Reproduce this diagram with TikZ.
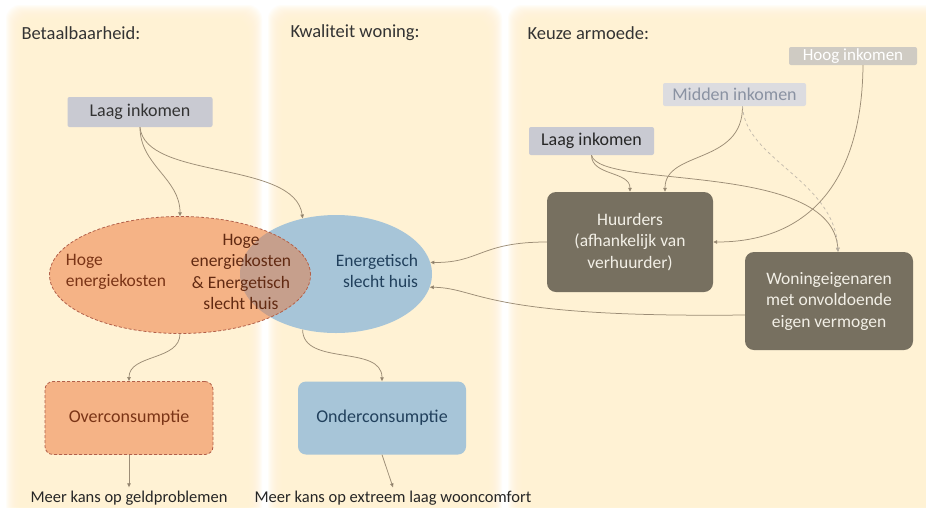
\documentclass[tikz,border=0pt]{standalone}
\usepackage{fontspec}
\setmainfont{Carlito}
\usetikzlibrary{arrows.meta}
\usetikzlibrary{shapes.geometric}
\definecolor{colbg}{HTML}{FFF2D4}
\definecolor{orangefill}{HTML}{F5B386}
\definecolor{orangeline}{HTML}{B2604A}
\definecolor{orangetext}{HTML}{7A3416}
\definecolor{bluefill}{HTML}{A7C5D8}
\definecolor{bluetext}{HTML}{21405C}
\definecolor{overlapfill}{HTML}{C69F8C}
\definecolor{darkfill}{HTML}{777060}
\definecolor{darktext}{HTML}{F2EFE6}
\definecolor{laagfill}{HTML}{C9CAD2}
\definecolor{middenfill}{HTML}{DCDCE0}
\definecolor{middentext}{HTML}{8A92A2}
\definecolor{hoogfill}{HTML}{CFCBC3}
\definecolor{linecol}{HTML}{9C8D76}
\tikzset{link/.style = {draw=linecol, line width=0.75pt, -{Triangle[length=4pt,width=3.5pt,fill=linecol!70!black]}}}
\tikzset{incbox/.style = {fill=#1, rounded corners=2pt, inner sep=0pt, font=\fontsize{18}{21}\selectfont}}
\tikzset{darkbox/.style = {fill=darkfill, text=darktext, rounded corners=9pt, align=center, inner sep=0pt, font=\fontsize{17.5}{21.5}\selectfont}}
\tikzset{outbox/.style = {rounded corners=8pt, inner sep=0pt, minimum width=168pt, minimum height=73pt, font=\fontsize{18}{21}\selectfont}}
\tikzset{venn/.style = {ellipse, inner sep=0pt}}
\tikzset{venntext/.style = {inner sep=0pt, font=\fontsize{17.5}{21.5}\selectfont}}
\tikzset{heading/.style = {anchor=west, text=black!80, font=\fontsize{18.5}{21}\selectfont}}
\tikzset{result/.style = {text=black!85, font=\fontsize{16.5}{19}\selectfont}}

\begin{document}
\begin{tikzpicture}[x=1pt,y=-1pt]
  \useasboundingbox (0,0) rectangle (926,507);
  \fill[white] (0,0) rectangle (926,507);
  % kolommen
  \foreach \xa/\xb in {6/262, 268/502, 508/950} {
    \foreach \i in {0,...,19}
      \fill[colbg, opacity=0.15, rounded corners=14pt] (\xa+\i,5+\i) rectangle (\xb-\i,530);
  }
  \node[heading] (tbet) at (18,33) {Betaalbaarheid:};
  \node[heading] (tkwal) at (287,33) {Kwaliteit woning:};
  \node[heading] (tkeuze) at (524,33) {Keuze armoede:};

  % venn
  \node[venn, fill=bluefill, minimum width=192pt, minimum height=118pt] (slecht) at (336,274) {};
  \node[venn, fill=orangefill, minimum width=261pt, minimum height=117pt] (hoog) at (180,275) {};
  \begin{scope}
    \clip (180,275) ellipse [x radius=130.5pt, y radius=58.5pt];
    \fill[overlapfill] (336,274) ellipse [x radius=96pt, y radius=59pt];
  \end{scope}
  \draw[orangeline, line width=0.8pt, dash pattern=on 3pt off 2pt] (180,275) ellipse [x radius=130.5pt, y radius=58.5pt];
  \node[venntext, text=orangetext, align=left] (hogetxt) at (116,272) {Hoge\\energiekosten};
  \node[venntext, text=orangetext!80!black, align=center] (beide) at (241,272) {Hoge\\energiekosten\\\& Energetisch\\slecht huis};
  \node[venntext, text=bluetext, align=right] (slechttxt) at (377,271) {Energetisch\\slecht huis};

  \node[outbox, fill=orangefill, draw=orangeline, line width=0.8pt, dash pattern=on 3pt off 2pt, text=orangetext] (over) at (129,418) {Overconsumptie};
  \node[outbox, fill=bluefill, text=bluetext] (onder) at (382,418) {Onderconsumptie};
  \node[result] (geld) at (129,498) {Meer kans op geldproblemen};
  \node[result] (comfort) at (393,498) {Meer kans op extreem laag wooncomfort};

  \node[incbox=laagfill, text=black!80, minimum width=145pt, minimum height=30pt] (laagL) at (140,112) {Laag inkomen};

  % keuze armoede
  \node[incbox=hoogfill, text=white, minimum width=128pt, minimum height=18pt, font=\fontsize{17}{18}\selectfont] (hoogink) at (853,56) {Hoog inkomen};
  \node[incbox=middenfill, text=middentext, minimum width=143pt, minimum height=23pt] (midden) at (734.5,94.5) {Midden inkomen};
  \node[incbox=laagfill, text=black!85, minimum width=125pt, minimum height=28pt] (laagR) at (591.5,141) {Laag inkomen};
  \node[darkbox, minimum width=166pt, minimum height=100pt] (huur) at (630,242) {Huurders\\(afhankelijk van\\verhuurder)};
  \node[darkbox, minimum width=168pt, minimum height=98pt] (eigen) at (829,301) {Woningeigenaren\\met onvoldoende\\eigen vermogen};

  % pijlen
  \draw[link] (laagL.south) to[out=-90, in=90] (hoog.north);
  \draw[link] (laagL.south) .. controls (145,180) and (295,160) .. (slecht.121);
  \draw[link] (hoog.south) to[out=-90, in=90] (over.north);
  \draw[link] (slecht.-121) to[out=-90, in=90] (onder.north);
  \draw[link] (over.south) -- (geld.north);
  \draw[link] (onder.south) -- (comfort.north);

  \draw[link] (laagR.south) to[out=-90, in=90] (huur.north);
  \draw[link] (laagR.south) .. controls (600,190) and (832,160) .. ([xshift=9pt]eigen.north);
  \draw[link] ([xshift=8pt]midden.south) .. controls (743,165) and (665,150) .. ([xshift=35pt]huur.north);
  \draw[link, dashed, draw=linecol!60] ([xshift=8pt]midden.south) .. controls (745,160) and (835,180) .. ([xshift=9pt]eigen.north);
  \draw[link] ([xshift=10pt]hoogink.south) .. controls (862,180) and (810,242) .. (huur.east);
  \draw[link] (huur.west) .. controls (480,242) and (480,263) .. (slecht.7);
  \draw[link] ([yshift=-14pt]eigen.west) .. controls (480,318) and (480,288) .. (slecht.-8);
\end{tikzpicture}
\end{document}
